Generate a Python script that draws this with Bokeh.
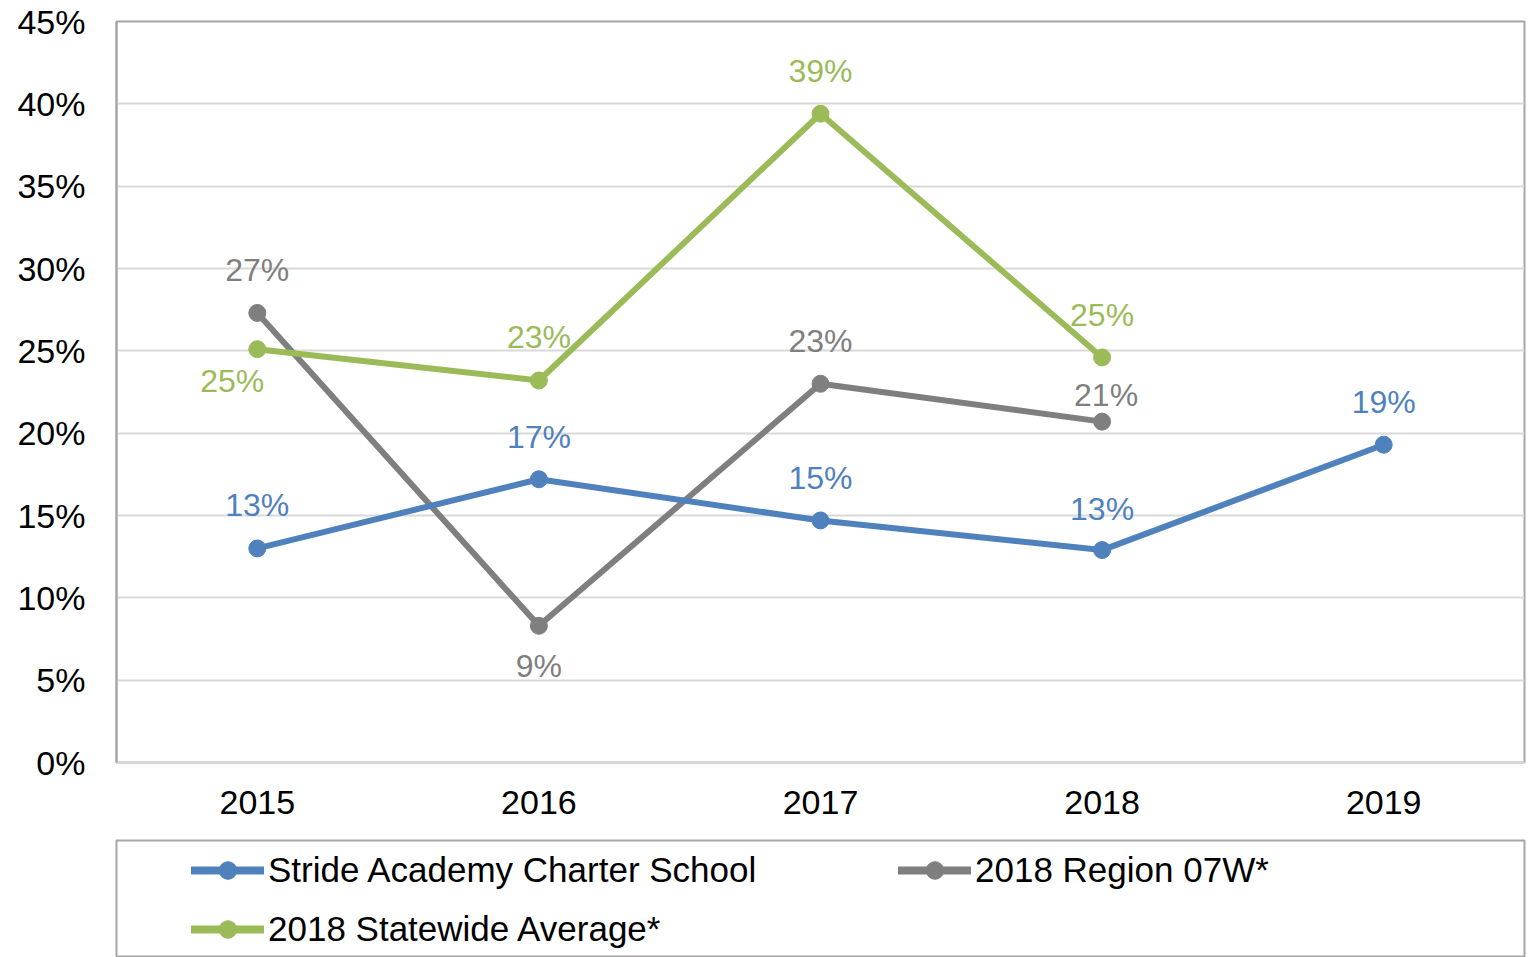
from bokeh.plotting import figure
from bokeh.layouts import column
from bokeh.models import (ColumnDataSource, FactorRange, Range1d, FixedTicker,
                          NumeralTickFormatter, Legend, LegendItem)
from bokeh.core.properties import value
from bokeh.embed import file_html
from bokeh.resources import INLINE

# ---------------- data ----------------
years = ["2015", "2016", "2017", "2018", "2019"]
stride_years = ["2015", "2016", "2017", "2018", "2019"]
stride_vals = [0.130, 0.172, 0.147, 0.129, 0.193]
stride_labels = ["13%", "17%", "15%", "13%", "19%"]

region_years = ["2015", "2016", "2017", "2018"]
region_vals = [0.273, 0.083, 0.230, 0.207]
region_labels = ["27%", "9%", "23%", "21%"]

state_years = ["2015", "2016", "2017", "2018"]
state_vals = [0.251, 0.232, 0.394, 0.246]
state_labels = ["25%", "23%", "39%", "25%"]

y_ticks = [0.0, 0.05, 0.10, 0.15, 0.20, 0.25, 0.30, 0.35, 0.40, 0.45]

series_names = ["Stride Academy Charter School", "2018 Region 07W*", "2018 Statewide Average*"]

# ---------------- styles ----------------
BLUE = "#4f81bd"
GRAY = "#7f7f7f"
GREEN = "#9bbb59"
FONT = "Liberation Sans"

# label offsets in screen pixels (dx, dy)
stride_dx = [0, 0, 0, 0, 0]
stride_dy = [-43, -42, -42, -41, -43]
region_dx = [0, 0, 0, 4]
region_dy = [-43, 40, -43, -27]
state_dx = [-25, 0, 0, 0]
state_dy = [32, -43, -43, -42]

p = figure(width=1529, height=830, output_backend="svg", toolbar_location=None,
           x_range=FactorRange(factors=years, range_padding=0),
           y_range=Range1d(0, 0.45),
           min_border_left=116, min_border_right=5, min_border_top=21, min_border_bottom=68)

p.outline_line_color = "#a6a6a6"
p.outline_line_width = 2
p.xgrid.grid_line_color = None
p.ygrid.grid_line_color = "#d9d9d9"
p.ygrid.grid_line_width = 2

p.yaxis.ticker = FixedTicker(ticks=y_ticks)
p.yaxis.formatter = NumeralTickFormatter(format="0%")
p.yaxis.axis_line_color = "#a6a6a6"
p.yaxis.axis_line_width = 2
p.yaxis.major_tick_line_color = None
p.yaxis.minor_tick_line_color = None
p.yaxis.major_tick_out = 0
p.yaxis.major_label_standoff = 31
p.yaxis.major_label_text_font = FONT
p.yaxis.major_label_text_font_size = "34px"
p.yaxis.major_label_text_color = "#000000"

p.xaxis.axis_line_color = "#d9d9d9"
p.xaxis.axis_line_width = 2
p.xaxis.major_tick_line_color = None
p.xaxis.minor_tick_line_color = None
p.xaxis.major_tick_out = 0
p.xaxis.major_label_standoff = 28
p.xaxis.major_label_text_font = FONT
p.xaxis.major_label_text_font_size = "34px"
p.xaxis.major_label_text_color = "#000000"


def add_series(xs, ys, labels, dx, dy, color):
    src = ColumnDataSource(dict(x=xs, y=ys, label=labels, dx=dx, dy=dy))
    p.line("x", "y", source=src, line_color=color, line_width=6, line_join="round")
    p.scatter("x", "y", source=src, size=17, fill_color=color, line_color=color)
    p.text("x", "y", text="label", source=src, x_offset="dx", y_offset="dy",
           text_color=color, text_font=value(FONT), text_font_size="32px",
           text_align="center", text_baseline="middle")


add_series(region_years, region_vals, region_labels, region_dx, region_dy, GRAY)
add_series(state_years, state_vals, state_labels, state_dx, state_dy, GREEN)
add_series(stride_years, stride_vals, stride_labels, stride_dx, stride_dy, BLUE)

# ---------------- legend panel ----------------
# The series are drawn here too, but the y range (1..2) keeps them out of view;
# they only serve as the legend's glyph renderers.
leg = figure(width=1529, height=127, output_backend="svg", toolbar_location=None,
             x_range=FactorRange(factors=years, range_padding=0), y_range=Range1d(1, 2),
             min_border_left=113, min_border_right=1, min_border_top=10, min_border_bottom=0)
leg.axis.visible = False
leg.grid.visible = False
leg.outline_line_color = "#a6a6a6"
leg.outline_line_width = 2

items = []
for name, xs, ys, color in zip(series_names,
                               [stride_years, region_years, state_years],
                               [stride_vals, region_vals, state_vals],
                               [BLUE, GRAY, GREEN]):
    src = ColumnDataSource(dict(x=xs, y=ys))
    lr = leg.line("x", "y", source=src, line_color=color, line_width=8, line_cap="round")
    sr = leg.scatter("x", "y", source=src, fill_color=color, line_color=color)
    items.append(LegendItem(label=name, renderers=[lr, sr]))


def make_legend(its, loc):
    lg = Legend(items=its, location=loc, orientation="vertical",
                glyph_width=73, glyph_height=44, label_height=44, label_standoff=4,
                spacing=15, padding=0, margin=0,
                border_line_color=None, background_fill_alpha=0,
                label_text_font=FONT, label_text_font_size="35px", label_text_color="#000000")
    leg.add_layout(lg, "center")


make_legend([items[0], items[2]], (75, 6))
make_legend([items[1]], (782, 65))

layout = column(p, leg, spacing=0)
open("out.html", "w").write(file_html(layout, INLINE))
